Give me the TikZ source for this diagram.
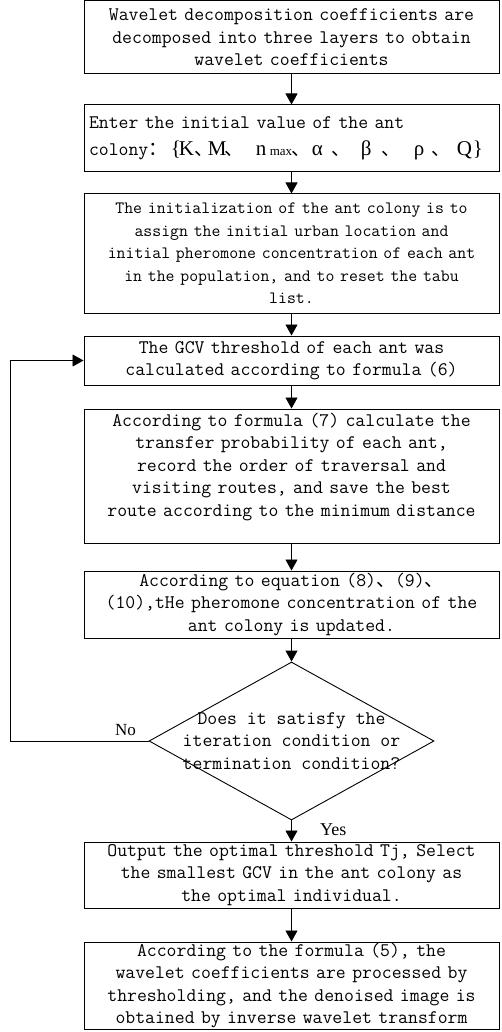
\documentclass[tikz,border=0pt]{standalone}
\usepackage{fontspec}
\newfontfamily\cjk{Noto Sans CJK SC}
\newfontfamily\ser{Liberation Serif}
\usetikzlibrary{shapes.geometric,arrows.meta}
\newcommand\gl[2]{\makebox[#1pt][l]{#2}}
\begin{document}
\begin{tikzpicture}[x=1pt,y=-1pt,
  box/.style={draw,line width=1pt,minimum width=415pt,text width=405pt,align=center,inner sep=0pt,
    font=\ttfamily\fontsize{19.2}{22.5}\selectfont},
  dtxt/.style={inner sep=0pt,align=center,font=\ttfamily\fontsize{19.2}{22.5}\selectfont},
  lbl/.style={inner sep=0pt,anchor=base west},
  arr/.style={-{Triangle[width=12pt,length=11pt]},line width=0.9pt},
]
\useasboundingbox (0,0) rectangle (502,1032);

\node[box,minimum height=73pt] (b1) at (291.5,37.5)
  {Wavelet decomposition coefficients are\\decomposed into three layers to obtain\\wavelet coefficients};

\node[box,minimum height=67pt,align=left] (b2) at (291.5,138.5)
  {Enter the initial value of the ant\\[5pt]
   colony\gl{22.5}{\cjk ：}%
   {\ser\fontsize{21}{21}\selectfont
   \gl{8}{\{}\gl{16}{K}\gl{13}{\cjk\fontsize{19}{19}\selectfont 、}%
   \gl{17}{M}\gl{31}{\cjk\fontsize{19}{19}\selectfont 、}%
   \gl{14}{n}\gl{22}{\fontsize{13}{13}\selectfont max}%
   \gl{20}{\cjk\fontsize{19}{19}\selectfont 、}%
   \gl{20}{α}\gl{29}{\cjk\fontsize{19}{19}\selectfont 、}%
   \gl{21}{β}\gl{32}{\cjk\fontsize{19}{19}\selectfont 、}%
   \gl{18}{ρ}\gl{25}{\cjk\fontsize{19}{19}\selectfont 、}%
   \gl{16}{Q}\}}};

\node[box,minimum height=119pt,font=\ttfamily\fontsize{17.3}{22.5}\selectfont] (b3) at (291.5,253.5)
  {The initialization of the ant colony is to\\assign the initial urban location and\\initial pheromone concentration of each ant\\in the population, and to reset the tabu\\list.};

\node[box,minimum height=49pt] (b4) at (291.5,360.5)
  {The GCV threshold of each ant was\\calculated according to formula (6)};

\node[box,minimum height=134pt] (b5) at (291.5,476)
  {According to formula (7) calculate the\\transfer probability of each ant,\\record the order of traversal and\\visiting routes, and save the best\\route according to the minimum distance\\\mbox{}};

\node[box,minimum height=67pt] (b6) at (291.5,604.5)
  {According to equation (8){\cjk\fontsize{19}{19}\selectfont 、}(9){\cjk\fontsize{19}{19}\selectfont 、}\\(10),tHe pheromone concentration of the\\ant colony is updated.};

\node[diamond,draw,line width=0.9pt,minimum width=285pt,minimum height=158pt,inner sep=0pt] (dia) at (291.5,741) {};
\node[dtxt] (dtext) at (291.5,741)
  {Does it satisfy the\\iteration condition or\\termination condition?};

\node[box,minimum height=66pt] (b7) at (291.5,875)
  {Output the optimal threshold Tj, Select\\the smallest GCV in the ant colony as\\the optimal individual.};

\node[box,minimum height=87pt] (b8) at (291.5,985.5)
  {According to the formula (5), the\\wavelet coefficients are processed by\\thresholding, and the denoised image is\\obtained by inverse wavelet transform};

\node[lbl,font=\ser\fontsize{17}{17}\selectfont] (no) at (115,735) {No};
\node[lbl,font=\ser\fontsize{18}{18}\selectfont] (yes) at (320,835) {Yes};

\draw[arr] (b1.south) -- (b2.north);
\draw[arr] (b2.south) -- (b3.north);
\draw[arr] (b3.south) -- (b4.north);
\draw[arr] (b4.south) -- (b5.north);
\draw[arr] (b5.south) -- (b6.north);
\draw[arr] (b6.south) -- (dia.north);
\draw[arr] (dia.south) -- (b7.north);
\draw[arr] (b7.south) -- (b8.north);
\coordinate (lc) at (10,741);
\draw[arr] (dia.west) -- (lc) |- (b4.west);
\end{tikzpicture}
\end{document}
